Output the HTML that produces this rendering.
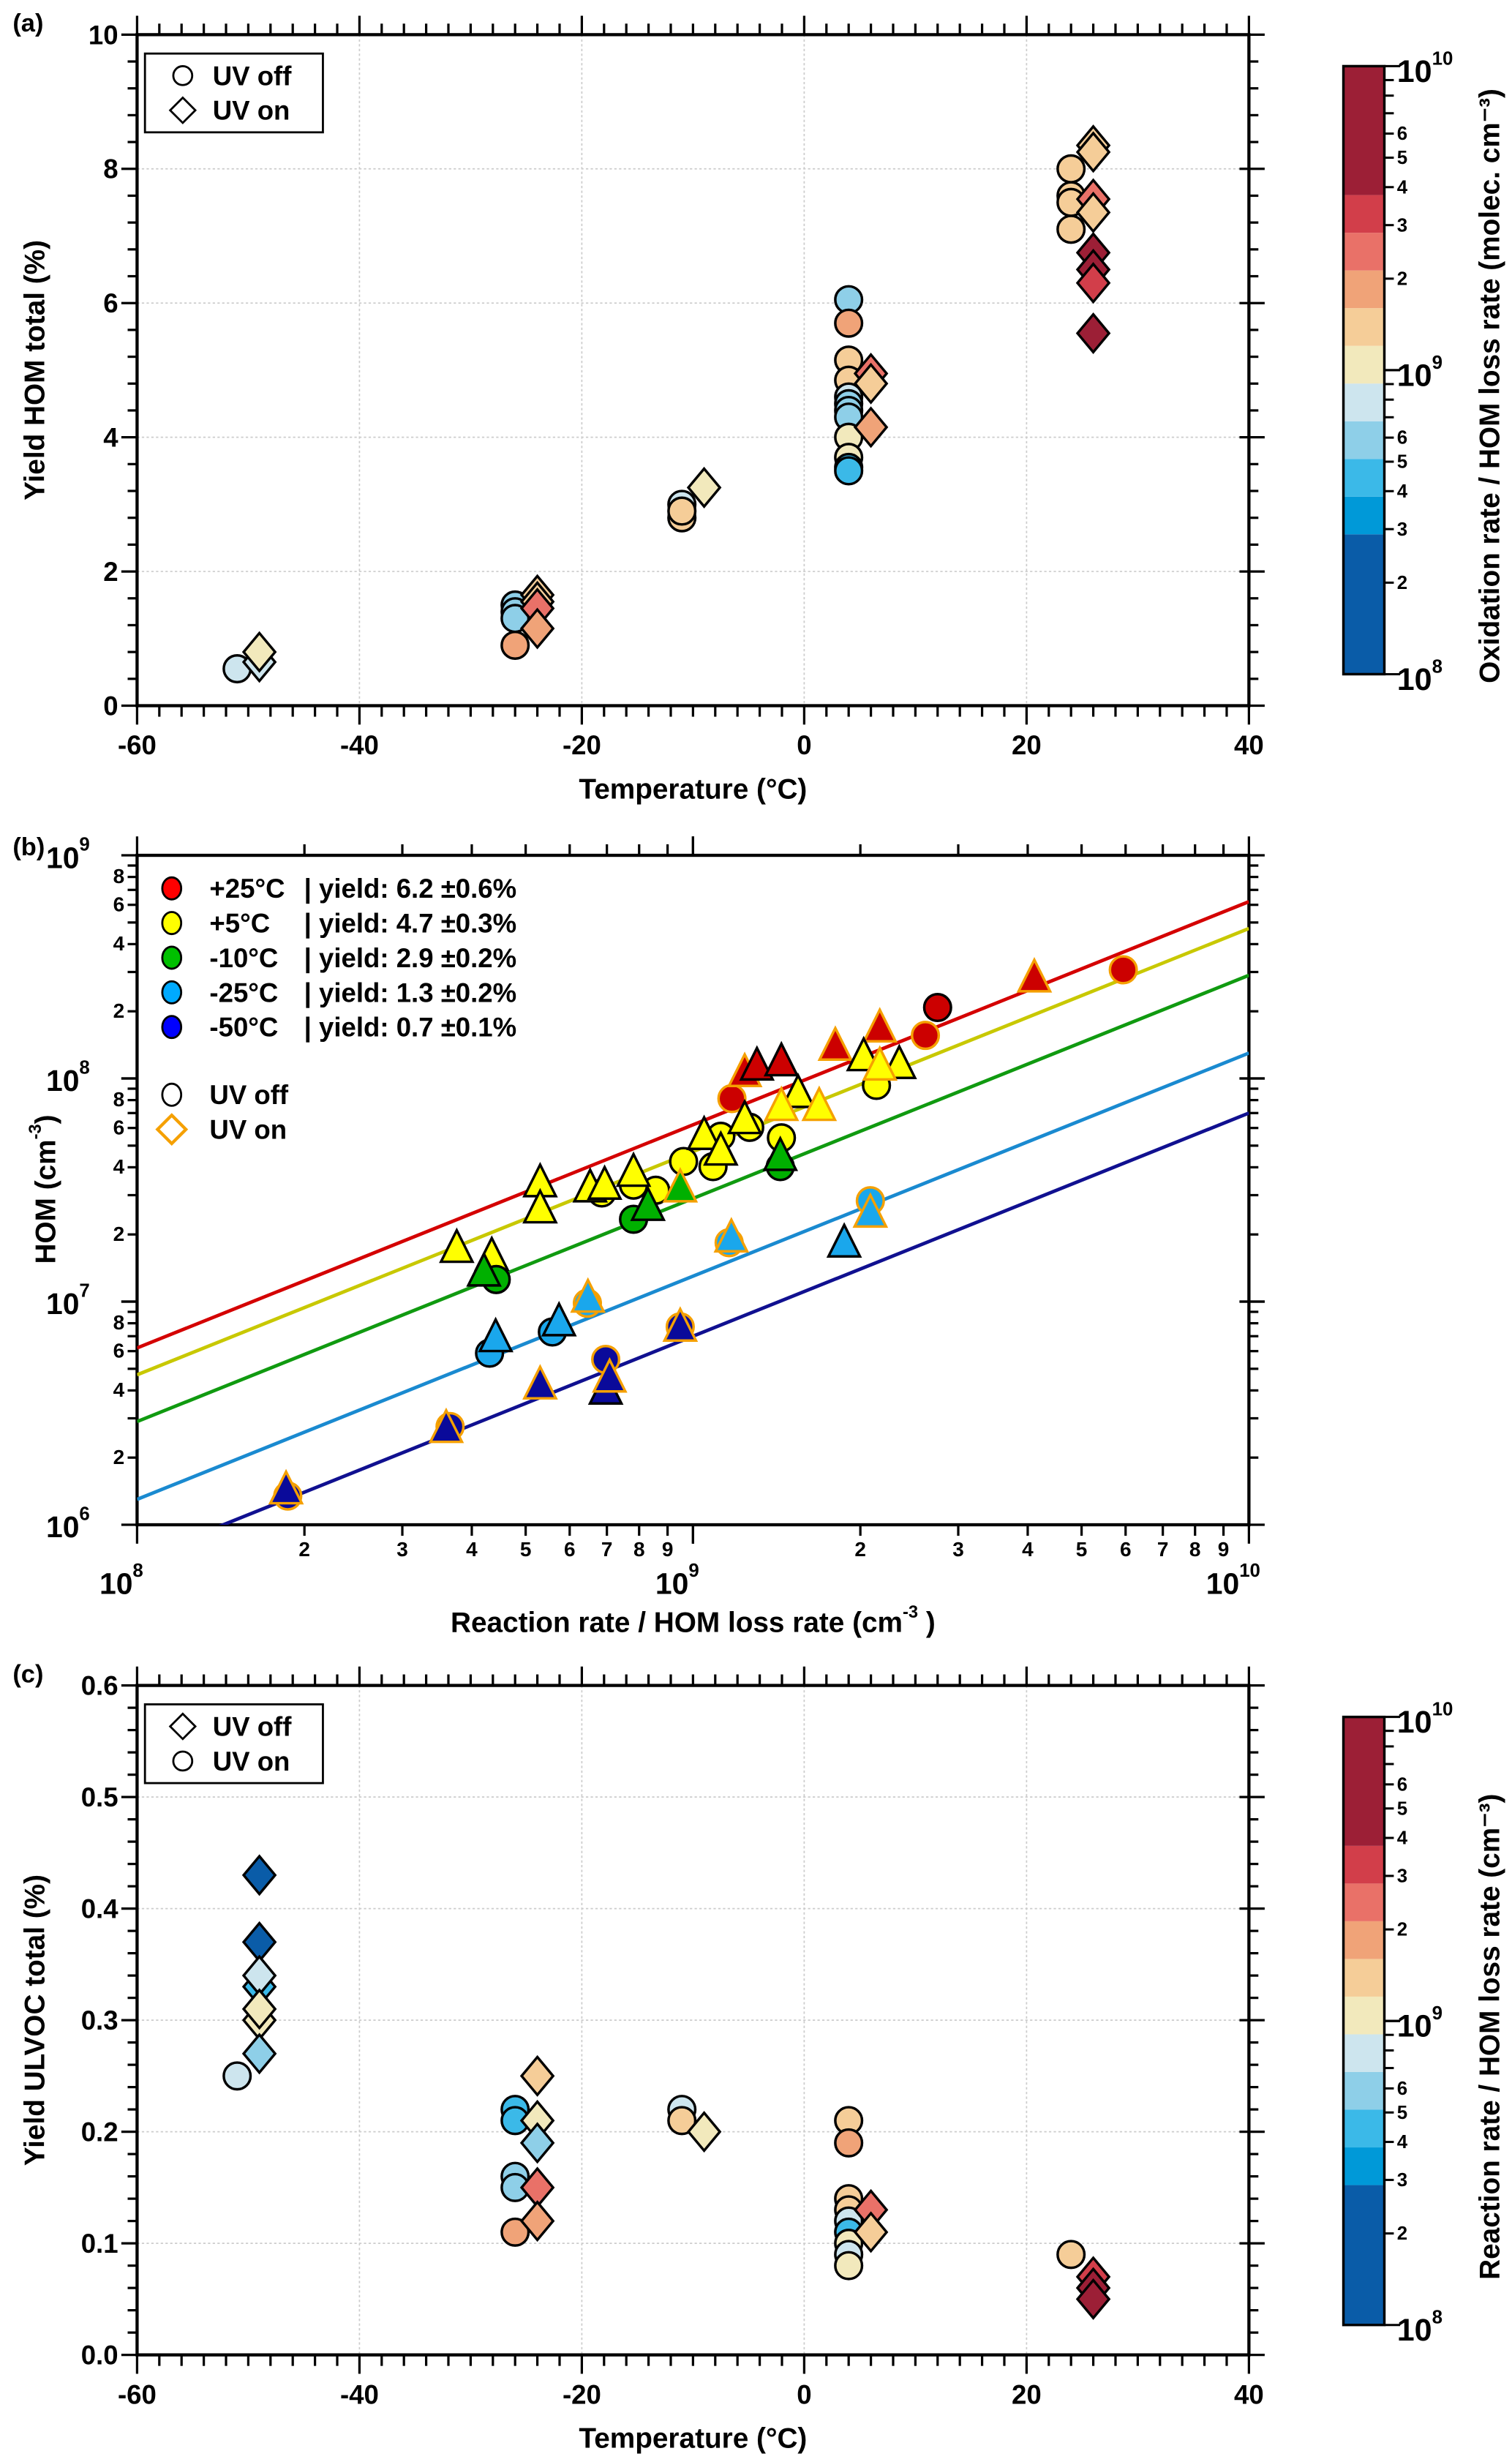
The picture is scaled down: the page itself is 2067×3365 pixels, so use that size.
<!DOCTYPE html>
<html><head><meta charset="utf-8"><style>
html,body{margin:0;padding:0;background:#fff;}
svg{display:block;}
text{font-family:"Liberation Sans",sans-serif;font-weight:bold;fill:#000;}
</style></head><body>
<svg id="fig" width="2067" height="3365" viewBox="0 0 960 1563" xmlns="http://www.w3.org/2000/svg"></svg>
<script>
// ---------- Panel (a) data ----------
const aOffT=[-51,-26,-26,-26,-26,-11,-11,-11,4,4,4,4,4,4,4,4,4,4,4,4,24,24,24,24];
const aOffY=[0.55,1.5,1.4,1.3,0.9,3.0,2.8,2.9,6.05,5.7,5.15,4.85,4.6,4.5,4.4,4.3,4.0,3.7,3.55,3.5,8.0,7.6,7.5,7.1];
const aOffC=[8.9,8.75,8.75,8.75,9.3,8.9,9.15,9.15,8.75,9.3,9.15,9.15,8.9,8.75,8.8,8.75,9.0,9.0,8.6,8.6,9.15,9.15,9.15,9.15];
const aOnT=[-49,-49,-24,-24,-24,-24,-9,6,6,6,26,26,26,26,26,26,26,26];
const aOnY=[0.65,0.8,1.65,1.55,1.45,1.15,3.25,4.95,4.8,4.15,8.35,8.25,7.55,7.35,6.75,6.5,6.3,5.55];
const aOnC=[8.9,9.0,9.15,9.15,9.4,9.3,9.0,9.4,9.15,9.3,9.15,9.15,9.4,9.15,9.7,9.7,9.5,9.7];
// ---------- Panel (b) data ----------
const bGroups=['+25°C','+5°C','-10°C','-25°C','-50°C'];
const bYields=[6.2,4.7,2.9,1.3,0.7];
const bYieldErr=['0.6','0.3','0.2','0.2','0.1'];
const bCircX=[[9.07,9.418,9.44,9.774],[8.983,9.036,9.05,9.102,9.159,8.933,8.893,8.836,9.33],[8.646,8.893,9.157],[8.634,8.747,8.81,9.065,9.319],[8.563,8.843,8.977,8.271]];
const bCircY=[[7.91,8.193,8.318,8.487],[7.628,7.605,7.741,7.781,7.734,7.499,7.522,7.487,7.969],[7.099,7.369,7.605],[6.769,6.864,6.993,7.264,7.452],[6.44,6.741,6.887,6.129]];
const bCircUV=[[1,1,0,1],[0,0,0,0,0,0,0,0,0],[0,0,0],[0,0,1,1,1],[1,1,1,1]];
const bTriX=[[9.093,9.115,9.159,9.256,9.336,9.614],[8.725,8.725,8.575,8.638,8.815,8.841,8.893,9.02,9.05,9.093,9.189,9.159,9.227,9.307,9.371,9.336],[8.624,8.919,8.977,9.157],[8.645,8.759,8.811,9.069,9.272,9.319],[8.556,8.725,8.843,8.85,8.977,8.268]];
const bTriY=[[8.016,8.045,8.064,8.134,8.216,8.44],[7.522,7.405,7.228,7.193,7.499,7.511,7.569,7.734,7.664,7.805,7.922,7.864,7.864,8.087,8.052,8.045],[7.122,7.416,7.499,7.64],[6.828,6.899,7.005,7.275,7.252,7.386],[6.421,6.616,6.593,6.647,6.875,6.146]];
const bTriUV=[[1,0,0,1,1,1],[0,0,0,0,0,0,0,0,0,0,0,1,1,0,0,1],[0,0,1,0],[0,0,1,1,0,1],[1,1,0,1,1,1]];
// ---------- Panel (c) data ----------
const cOnT=[-51,-26,-26,-26,-26,-26,-11,-11,4,4,4,4,4,4,4,4,4,24];
const cOnY=[0.25,0.22,0.21,0.16,0.15,0.11,0.22,0.21,0.21,0.19,0.14,0.13,0.12,0.11,0.10,0.09,0.08,0.09];
const cOnC=[8.9,8.65,8.65,8.75,8.75,9.3,8.9,9.15,9.15,9.3,9.15,9.15,8.9,8.65,9.0,8.9,9.0,9.15];
const cOffT=[-49,-49,-49,-49,-49,-49,-49,-24,-24,-24,-24,-24,-9,6,6,26,26,26];
const cOffY=[0.43,0.37,0.33,0.34,0.30,0.31,0.27,0.25,0.21,0.19,0.15,0.12,0.20,0.13,0.11,0.07,0.06,0.05];
const cOffC=[8.3,8.3,8.65,8.9,9.0,9.0,8.75,9.15,9.0,8.75,9.4,9.3,9.0,9.4,9.15,9.5,9.7,9.7];

const bandColors=['#0a5ca8','#0099d8','#3bb9e8','#8ecfe8','#cde5ee','#f2e9bc','#f5cd98','#f0a378','#e97168','#d23e4a','#9c1f36'];
function cmap(l){let i=Math.floor((l-8.46)/0.124)+1;if(l<8.46)i=0;return bandColors[Math.max(0,Math.min(10,i))];}

const S=document.getElementById('fig');
const NS='http://www.w3.org/2000/svg';
function el(tag,at,parent){const e=document.createElementNS(NS,tag);for(const k in at)e.setAttribute(k,at[k]);(parent||S).appendChild(e);return e;}
function txt(x,y,s,size,anchor,parent){const t=el('text',{x:x,y:y,'font-size':size,'text-anchor':anchor||'middle'},parent);t.textContent=s;return t;}

function circle(g,x,y,fill,stroke){return el('circle',{cx:x,cy:y,r:8.5,fill:fill,stroke:stroke||'#000','stroke-width':1.6},g);}
function diamond(g,x,y,fill,stroke){return el('polygon',{points:`${x},${y-12} ${x+10},${y} ${x},${y+12} ${x-10},${y}`,fill:fill,stroke:stroke||'#000','stroke-width':1.6},g);}
function tri(g,x,y,fill,stroke){return el('polygon',{points:`${x},${y-13} ${x+10},${y+7} ${x-10},${y+7}`,fill:fill,stroke:stroke||'#000','stroke-width':1.6},g);}

function linPanel(name,top,bot,ymax,yStep,yMinor,yLabel){
  const g=el('g',{},S);
  
  
  const L=87,R=793;
  const sx=t=>L+(t+60)/100*(R-L);
  const sy=v=>bot-(v/ymax)*(bot-top);
  for(let t=-40;t<40;t+=20)el('line',{x1:sx(t),x2:sx(t),y1:top,y2:bot,stroke:'#ccc','stroke-dasharray':'1.5,1.5','stroke-width':0.8},g);
  for(let v=yStep;v<ymax-1e-9;v+=yStep)el('line',{x1:L,x2:R,y1:sy(v),y2:sy(v),stroke:'#ccc','stroke-dasharray':'1.5,1.5','stroke-width':0.8},g);
  el('rect',{x:L,y:top,width:R-L,height:bot-top,fill:'none',stroke:'#000','stroke-width':2},g);
  for(let t=-60;t<=40;t+=2){const maj=t%20===0;const x=sx(t);
    el('line',{x1:x,x2:x,y1:bot,y2:bot+(maj?12:7),stroke:'#000','stroke-width':1.5},g);
    el('line',{x1:x,x2:x,y1:top,y2:top-(maj?12:7),stroke:'#000','stroke-width':1.5},g);
    if(maj)txt(x,bot+31,String(t),17,'middle',g);}
  for(let v=0;v<=ymax+1e-9;v+=yMinor){const maj=Math.abs(v/yStep-Math.round(v/yStep))<1e-6;const y=sy(v);
    el('line',{x1:L,x2:L-(maj?10:6),y1:y,y2:y,stroke:'#000','stroke-width':1.5},g);
    el('line',{x1:R-(maj?6:0),x2:R+(maj?10:6),y1:y,y2:y,stroke:'#000','stroke-width':1.5},g);
    if(maj)txt(L-12,y+6,yStep<1?v.toFixed(1):String(Math.round(v)),17,'end',g);}
  txt((L+R)/2,bot+59,'Temperature (°C)',18,'middle',g);
  const yl=txt(0,0,yLabel,18,'middle',g);yl.setAttribute('transform',`translate(28,${(top+bot)/2}) rotate(-90)`);
  return {g,sx,sy};
}
function colorbar(name,top,bot,label){
  const g=el('g',{},S);
  
  
  const x0=853,x1=879,dec=(bot-top)/2;
  const ly=l=>bot-(l-8)*dec;
  const bnd=[8,8.46];for(let i=1;i<=9;i++)bnd.push(8.46+0.124*i);bnd.push(10);
  for(let i=0;i<11;i++)el('rect',{x:x0,y:ly(bnd[i+1]),width:x1-x0,height:ly(bnd[i])-ly(bnd[i+1]),fill:bandColors[i]},g);
  el('rect',{x:x0,y:top,width:x1-x0,height:bot-top,fill:'none',stroke:'#000','stroke-width':1.6},g);
  for(let d=8;d<10;d++)for(let m=1;m<=10;m++){const y=ly(d+Math.log10(m));const maj=(m===1||m===10);
    el('line',{x1:x1,x2:x1+(maj?10:6),y1:y,y2:y,stroke:'#000','stroke-width':1.4},g);
    if(!maj&&[2,3,4,5,6].includes(m))txt(x1+8,y+4,String(m),12,'start',g);}
  [8,9,10].forEach(d=>{const t=txt(x1+8,ly(d)+10,'10',20,'start',g);const s=el('tspan',{dy:-11,'font-size':12},t);s.textContent=String(d);});
  const yl=txt(0,0,label,18,'middle',g);yl.setAttribute('transform',`translate(952,${(top+bot)/2+10}) rotate(-90)`);
  return g;
}
function legendBox(name,y,items){
  const g=el('g',{},S);
  
  
  el('rect',{x:92,y:y,width:113,height:50,fill:'#fff',stroke:'#000','stroke-width':1.3},g);
  items.forEach((it,i)=>{const yy=y+14+i*22;
    if(it[0]==='c')el('circle',{cx:116,cy:yy,r:6,fill:'#fff',stroke:'#000','stroke-width':1.3},g);
    else el('polygon',{points:`116,${yy-8} 124,${yy} 116,${yy+8} 108,${yy}`,fill:'#fff',stroke:'#000','stroke-width':1.3},g);
    txt(135,yy+6,it[1],17,'start',g);});
}

// ===== Panel (a) =====
txt(8,20,'(a)',16,'start');
const A=linPanel('panel-a-plot',22,448,10,2,0.4,'Yield HOM total (%)');
aOffT.forEach((t,i)=>{const m=circle(A.g,A.sx(t),A.sy(aOffY[i]),cmap(aOffC[i]));
  
  });
aOnT.forEach((t,i)=>{const m=diamond(A.g,A.sx(t),A.sy(aOnY[i]),cmap(aOnC[i]));
  
  });
legendBox('panel-a-legend',34,[['c','UV off'],['d','UV on']]);
colorbar('panel-a-colorbar',42,428,'Oxidation rate / HOM loss rate (molec. cm⁻³)');

// ===== Panel (b) =====
txt(8,543,'(b)',16,'start');
(function(){
  const g=el('g',{},S);
  
  
  const L=87,R=793,T=543,B=968;
  const sx=l=>L+(l-8)/2*(R-L);
  const sy=l=>B-(l-6)/3*(B-T);
  const defs=el('defs',{},g);const cp=el('clipPath',{id:'cpb'},defs);el('rect',{x:L,y:T,width:R-L,height:B-T},cp);
  el('rect',{x:L,y:T,width:R-L,height:B-T,fill:'none',stroke:'#000','stroke-width':2},g);
  for(let d=8;d<10;d++)for(let m=1;m<=10;m++){const x=sx(d+Math.log10(m));const maj=(m===1||m===10);
    el('line',{x1:x,x2:x,y1:B,y2:B+(maj?12:7),stroke:'#000','stroke-width':1.5},g);
    el('line',{x1:x,x2:x,y1:T,y2:T-(maj?12:7),stroke:'#000','stroke-width':1.5},g);
    if(!maj)txt(x,B+20,String(m),13,'middle',g);}
  [8,9,10].forEach(d=>{const t=txt(sx(d)-10,B+44,'10',19,'middle',g);const s=el('tspan',{dy:-11,'font-size':12},t);s.textContent=String(d);});
  for(let d=6;d<9;d++)for(let m=1;m<=10;m++){const y=sy(d+Math.log10(m));const maj=(m===1||m===10);
    el('line',{x1:L,x2:L-(maj?10:6),y1:y,y2:y,stroke:'#000','stroke-width':1.5},g);
    el('line',{x1:R-(maj?6:0),x2:R+(maj?10:6),y1:y,y2:y,stroke:'#000','stroke-width':1.5},g);
    if([2,4,6,8].includes(m))txt(L-8,y+4,String(m),13,'end',g);}
  [6,7,8,9].forEach(d=>{const t=txt(L-30,sy(d)+8,'10',19,'end',g);const s=el('tspan',{dy:-11,'font-size':12},t);s.textContent=String(d);});
  const xt=txt(440,1036,'Reaction rate / HOM loss rate (cm',18,'middle',g);const s1=el('tspan',{dy:-9,'font-size':11},xt);s1.textContent='-3';const s2=el('tspan',{dy:9},xt);s2.textContent=' )';
  const yt=txt(0,0,'HOM (cm',18,'middle',g);const s3=el('tspan',{dy:-9,'font-size':11},yt);s3.textContent='-3';const s4=el('tspan',{dy:9},yt);s4.textContent=')';
  yt.setAttribute('transform','translate(35,755) rotate(-90)');
  const lineCols=['#d40000','#c8c800','#109a10','#1a8ad0','#101090'];
  const fillCols=['#cc0000','#ffff00','#00b000','#1aa7ec','#0a0a9a'];
  const legCols=['#ff0000','#ffff00','#00c000','#00aaff','#0000ff'];
  const lg=el('g',{'clip-path':'url(#cpb)'},g);
  bYields.forEach((y,i)=>{const ln=el('line',{x1:sx(8),x2:sx(10),y1:sy(8+Math.log10(y/100)),y2:sy(10+Math.log10(y/100)),stroke:lineCols[i],'stroke-width':2.2},lg);
    
    });
  const mg=el('g',{'clip-path':'url(#cpb)'},g);
  bGroups.forEach((nm,i)=>{
    bCircX[i].forEach((x,j)=>{const m=circle(mg,sx(x),sy(bCircY[i][j]),fillCols[i],bCircUV[i][j]?'#f5a000':'#000');
      
      });
    bTriX[i].forEach((x,j)=>{const m=tri(mg,sx(x),sy(bTriY[i][j]),fillCols[i],bTriUV[i][j]?'#f5a000':'#000');
      
      });
  });
  const lgd=el('g',{},g);
  
  
  bGroups.forEach((nm,i)=>{const y=564+i*22;
    el('ellipse',{cx:109,cy:y,rx:6,ry:7,fill:legCols[i],stroke:'#000','stroke-width':1.3},lgd);
    txt(133,y+6,nm,17,'start',lgd);txt(193,y+6,'| yield: '+bYields[i].toFixed(1)+' ±'+bYieldErr[i]+'%',17,'start',lgd);});
  el('ellipse',{cx:109,cy:695,rx:6,ry:7,fill:'#fff',stroke:'#000','stroke-width':1.3},lgd);
  txt(133,701,'UV off',17,'start',lgd);
  el('polygon',{points:'109,708 118,717 109,726 100,717',fill:'#fff',stroke:'#f5a000','stroke-width':2},lgd);
  txt(133,723,'UV on',17,'start',lgd);
})();

// ===== Panel (c) =====
txt(8,1068,'(c)',16,'start');
const C=linPanel('panel-c-plot',1070,1495,0.6,0.1,0.02,'Yield ULVOC total (%)');
cOnT.forEach((t,i)=>{const m=circle(C.g,C.sx(t),C.sy(cOnY[i]),cmap(cOnC[i]));
  
  });
cOffT.forEach((t,i)=>{const m=diamond(C.g,C.sx(t),C.sy(cOffY[i]),cmap(cOffC[i]));
  
  });
legendBox('panel-c-legend',1082,[['d','UV off'],['c','UV on']]);
colorbar('panel-c-colorbar',1090,1476,'Reaction rate / HOM loss rate (cm⁻³)');
</script>
</body></html>
